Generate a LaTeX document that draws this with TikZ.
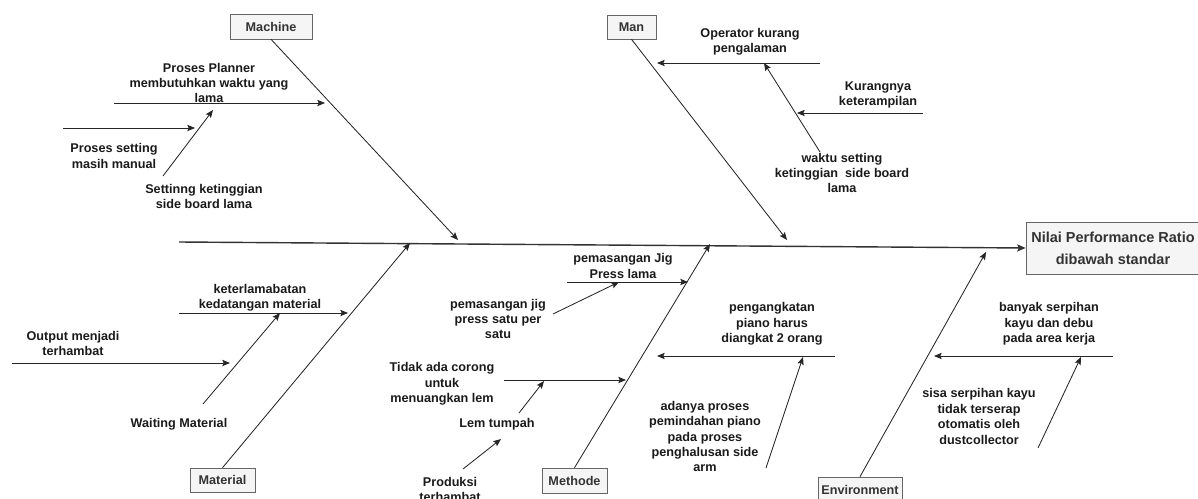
\documentclass[tikz,border=0pt]{standalone}
\usepackage{fontspec}
\setmainfont{Liberation Sans}
\usetikzlibrary{arrows.meta}
\definecolor{boxfill}{HTML}{F5F5F5}
\definecolor{boxline}{HTML}{666666}
\definecolor{boxtext}{HTML}{333333}
\definecolor{labtext}{HTML}{1A1A1A}
\begin{document}
\begin{tikzpicture}[x=0.025cm,y=-0.025cm,
  catbox/.style={draw=boxline,fill=boxfill,text=boxtext,inner sep=0pt,
    font=\fontsize{9}{11}\selectfont\bfseries},
  effbox/.style={draw=boxline,fill=boxfill,text=boxtext,inner sep=0pt,align=center,
    font=\fontsize{10.3}{15.6}\selectfont\bfseries},
  lab/.style={inner sep=0pt,align=center,text=labtext,
    font=\fontsize{9}{11}\selectfont\bfseries},
  bone/.style={draw=black!85,line width=0.6pt,-{Stealth[length=5.5pt,width=4.5pt,inset=1pt]}},
  spinearr/.style={draw=black!80,line width=1pt,-{Stealth[length=6pt,width=5pt,inset=1pt]}},
  sub/.style={draw=black!85,line width=0.6pt,-{Stealth[length=5.5pt,width=4.5pt,inset=1pt]}}]
\useasboundingbox (0,0) rectangle (1198,499);

% category and effect boxes
\node[catbox,minimum width=2.05cm,minimum height=0.625cm] (mach) at (271,26.5) {Machine};
\node[catbox,minimum width=1.225cm,minimum height=0.6cm] (man) at (631.5,27) {Man};
\node[catbox,minimum width=1.625cm,minimum height=0.6cm] (mat) at (222.5,480) {Material};
\node[catbox,minimum width=1.625cm,minimum height=0.625cm] (meth) at (574.5,480.5) {Methode};
\node[catbox,minimum width=2.1cm,minimum height=0.625cm] (env) at (860,489.5) {Environment};
\node[effbox,minimum width=4.35cm,minimum height=1.3cm] (eff) at (1113,248) {Nilai Performance Ratio\\dibawah standar};

% spine
\coordinate (s0) at (179,242);
\draw[spinearr] (s0) -- (eff.west);

% main bones
\coordinate (bM) at (458,240);
\coordinate (bN) at (787,240);
\coordinate (bT) at (410,243);
\coordinate (bH) at (710,244);
\coordinate (bE) at (986,252);
\draw[bone] (mach.south) -- (bM);
\draw[bone] (man.south) -- (bN);
\draw[bone] (mat.north) -- (bT);
\draw[bone] (meth.north) -- (bH);
\draw[bone] (env.north) -- (bE);

% labels
\node[lab] (tPlanner) at (209,83) {Proses Planner\\membutuhkan waktu yang\\lama};
\node[lab] (tSetting) at (114,156) {Proses setting\\masih manual};
\node[lab] (tSettinng) at (204,196.5) {Settinng ketinggian\\side board lama};
\node[lab] (tOperator) at (750,42) {Operator kurang\\pengalaman};
\node[lab] (tWaktu) at (842,173) {waktu setting\\ketinggian\ \ side board\\lama};
\node[lab] (tKurang) at (878,95) {Kurangnya\\keterampilan};
\node[lab] (tKeter) at (260,298) {keterlamabatan\\kedatangan material};
\node[lab] (tOutput) at (73,343.5) {Output menjadi\\terhambat};
\node[lab] (tWaiting) at (179,424) {Waiting Material};
\node[lab] (tJig) at (623,266) {pemasangan Jig\\Press lama};
\node[lab] (tJigB) at (498,319) {pemasangan jig\\press satu per\\satu};
\node[lab] (tCorong) at (442,384) {Tidak ada corong\\untuk\\menuangkan lem};
\node[lab] (tLem) at (497,424) {Lem tumpah};
\node[lab] (tProduksi) at (450,489.5) {Produksi\\terhambat};
\node[lab] (tAngkat) at (772,324) {pengangkatan\\piano harus\\diangkat 2 orang};
\node[lab] (tPindah) at (705,436.5) {adanya proses\\pemindahan piano\\pada proses\\penghalusan side\\arm};
\node[lab] (tSerpih) at (1049,324) {banyak serpihan\\kayu dan debu\\pada area kerja};
\node[lab] (tSisa) at (979,416.5) {sisa serpihan kayu\\tidak terserap\\otomatis oleh\\dustcollector};

% Machine sub-causes
\coordinate (a1s) at (114,103); \coordinate (a1e) at (325,103);
\coordinate (a2s) at (63,128);  \coordinate (a2e) at (195,128);
\coordinate (a3s) at (163,176); \coordinate (a3e) at (213,110);
\draw[sub] (a1s) -- (a1e);
\draw[sub] (a2s) -- (a2e);
\draw[sub] (a3s) -- (a3e);

% Man sub-causes
\coordinate (b1s) at (820,63);  \coordinate (b1e) at (657,63);
\coordinate (b2s) at (820,152); \coordinate (b2e) at (764,63);
\coordinate (b3s) at (923,113); \coordinate (b3e) at (797,113);
\draw[sub] (b1s) -- (b1e);
\draw[sub] (b2s) -- (b2e);
\draw[sub] (b3s) -- (b3e);

% Material sub-causes
\coordinate (c1s) at (179,313); \coordinate (c1e) at (348,313);
\coordinate (c2s) at (12,363);  \coordinate (c2e) at (230,363);
\coordinate (c3s) at (203,404); \coordinate (c3e) at (280,313);
\draw[sub] (c1s) -- (c1e);
\draw[sub] (c2s) -- (c2e);
\draw[sub] (c3s) -- (c3e);

% Methode sub-causes
\coordinate (d1s) at (567,282); \coordinate (d1e) at (688,282);
\coordinate (d2s) at (553,314); \coordinate (d2e) at (619,282);
\coordinate (d3s) at (504,380); \coordinate (d3e) at (626,380);
\coordinate (d4s) at (519,413); \coordinate (d4e) at (544,381);
\coordinate (d5s) at (463,469); \coordinate (d5e) at (501,439);
\coordinate (d6s) at (835,356); \coordinate (d6e) at (657,356);
\coordinate (d7s) at (766,468); \coordinate (d7e) at (803,357);
\draw[sub] (d1s) -- (d1e);
\draw[sub] (d2s) -- (d2e);
\draw[sub] (d3s) -- (d3e);
\draw[sub] (d4s) -- (d4e);
\draw[sub] (d5s) -- (d5e);
\draw[sub] (d6s) -- (d6e);
\draw[sub] (d7s) -- (d7e);

% Environment sub-causes
\coordinate (e1s) at (1113,356); \coordinate (e1e) at (934,356);
\coordinate (e2s) at (1038,448); \coordinate (e2e) at (1081,357);
\draw[sub] (e1s) -- (e1e);
\draw[sub] (e2s) -- (e2e);
\end{tikzpicture}
\end{document}
